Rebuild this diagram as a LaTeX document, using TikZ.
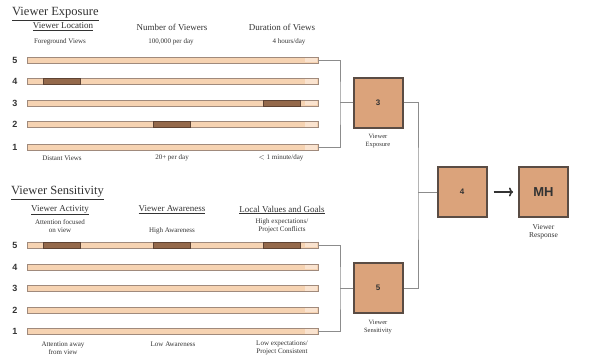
\documentclass[tikz,border=0pt]{standalone}
\usepackage{fontspec}
\setmainfont{Liberation Serif}
\newfontfamily\arialf{Liberation Sans}
\usetikzlibrary{arrows.meta}
\definecolor{barfill}{HTML}{F6D3B2}
\definecolor{barcapc}{HTML}{FAE3CF}
\definecolor{barline}{HTML}{A08A7C}
\definecolor{segfill}{HTML}{94694B}
\definecolor{segline}{HTML}{5E4333}
\definecolor{boxfill}{HTML}{DBA37B}
\definecolor{boxline}{HTML}{5A4C44}
\definecolor{connc}{HTML}{8C8C8C}
\definecolor{txt}{HTML}{333333}
\tikzset{
  bar/.style={draw=barline, fill=barfill, line width=0.8pt, minimum width=291pt, minimum height=6pt, inner sep=0pt},
  seg/.style={draw=segline, fill=segfill, line width=0.6pt, minimum width=37pt, minimum height=6pt, inner sep=0pt},
  barend/.style={fill=barcapc, minimum width=12pt, minimum height=4.4pt, inner sep=0pt},
  numlab/.style={font=\arialf\bfseries\fontsize{9}{9}\selectfont, text=txt, inner sep=0pt},
  title/.style={font=\fontsize{12.5}{13}\selectfont, text=txt, inner sep=0pt, anchor=west},
  subhead/.style={font=\fontsize{9}{10}\selectfont, text=txt, inner sep=0pt},
  rowtxt/.style={font=\fontsize{7}{8}\selectfont, text=txt, inner sep=0pt, align=center},
  scorebox/.style={draw=boxline, fill=boxfill, line width=2pt, minimum width=49pt, minimum height=50pt, inner sep=0pt, font=\arialf\bfseries\fontsize{8}{8}\selectfont, text=txt},
  boxlab/.style={font=\fontsize{6.5}{7.5}\selectfont, text=txt, inner sep=0pt, align=center},
  conn/.style={draw=connc, line width=0.8pt}
}
\begin{document}
\begin{tikzpicture}[x=1pt,y=-1pt]
\useasboundingbox (0,0) rectangle (597,360);
% ---------- Viewer Exposure ----------
\node[title] (etitle) at (12,14) {\underline{Viewer Exposure}};
\node[subhead] (eh1) at (63,27) {\underline{Viewer Location}};
\node[subhead] (eh2) at (172,27) {Number of Viewers};
\node[subhead] (eh3) at (282,27) {Duration of Views};
\node[rowtxt] (et1) at (60,42) {Foreground Views};
\node[rowtxt] (et2) at (171,42) {100,000 per day};
\node[rowtxt] (et3) at (289,42) {4 hours/day};
\foreach \n/\y in {5/60,4/81.5,3/103,2/124.5,1/147.5}{
  \node[bar] (e\n) at (172.5,\y) {};
  \node[barend, anchor=east] (ec\n) at ([xshift=-0.8pt]e\n.east) {};
  \node[numlab] (en\n) at (15,\y) {\n};
}
\node[seg] (es4) at (62,81.5) {};
\node[seg] (es3) at (282,103) {};
\node[seg] (es2) at (172,124.5) {};
\node[rowtxt] (eb1) at (62,158) {Distant Views};
\node[rowtxt] (eb2) at (172,158) {20+ per day};
\node[rowtxt] (eb3) at (281,158) {$<$ 1 minute/day};
% ---------- Viewer Sensitivity ----------
\node[title] (stitle) at (11,193) {\underline{Viewer Sensitivity}};
\node[subhead] (sh1) at (60,210) {\underline{Viewer Activity}};
\node[subhead] (sh2) at (172,210) {\underline{Viewer Awareness}};
\node[subhead] (sh3) at (282,210) {\underline{Local Values and Goals}};
\node[rowtxt] (st1) at (60,226) {Attention focused\\on view};
\node[rowtxt] (st2) at (172,230.5) {High Awareness};
\node[rowtxt] (st3) at (282,226) {High expectations/\\Project Conflicts};
\foreach \n/\y in {5/245,4/267,3/288.5,2/310,1/331.5}{
  \node[bar] (s\n) at (172.5,\y) {};
  \node[barend, anchor=east] (sc\n) at ([xshift=-0.8pt]s\n.east) {};
  \node[numlab] (sn\n) at (15,\y) {\n};
}
\node[seg] (ss1) at (62,245) {};
\node[seg] (ss2) at (172,245) {};
\node[seg] (ss3) at (282,245) {};
\node[rowtxt] (sb1) at (63,348) {Attention away\\from view};
\node[rowtxt] (sb2) at (173,344) {Low Awareness};
\node[rowtxt] (sb3) at (282,348) {Low expectations/\\Project Consistent};
% ---------- Score boxes ----------
\node[scorebox] (b3) at (378,102.5) {3};
\node[boxlab] (b3l) at (378,141) {Viewer\\Exposure};
\node[scorebox] (b5) at (378,288) {5};
\node[boxlab] (b5l) at (378,327) {Viewer\\Sensitivity};
\node[scorebox] (b4) at (462,192) {4};
\node[scorebox, font=\arialf\bfseries\fontsize{13}{13}\selectfont] (bmh) at (543.5,192) {MH};
\node[boxlab, font=\fontsize{7.5}{8.5}\selectfont] (bmhl) at (543.5,232) {Viewer\\Response};
% ---------- Connectors ----------
\coordinate (ej) at (340,102.5);
\coordinate (sj) at (340,288);
\coordinate (mj) at (418,192);
\draw[conn] (e5.east) -| (ej) |- (e1.east);
\draw[conn] (ej) -- (b3.west);
\draw[conn] (s5.east) -| (sj) |- (s1.east);
\draw[conn] (sj) -- (b5.west);
\draw[conn] (b3.east) -| (mj) |- (b5.east);
\draw[conn] (mj) -- (b4.west);
\draw[draw=txt, line width=1.8pt, -{To[length=4pt,width=9pt,line width=1.6pt]}] ([xshift=6pt]b4.east) -- ([xshift=-5pt]bmh.west);
\end{tikzpicture}
\end{document}
